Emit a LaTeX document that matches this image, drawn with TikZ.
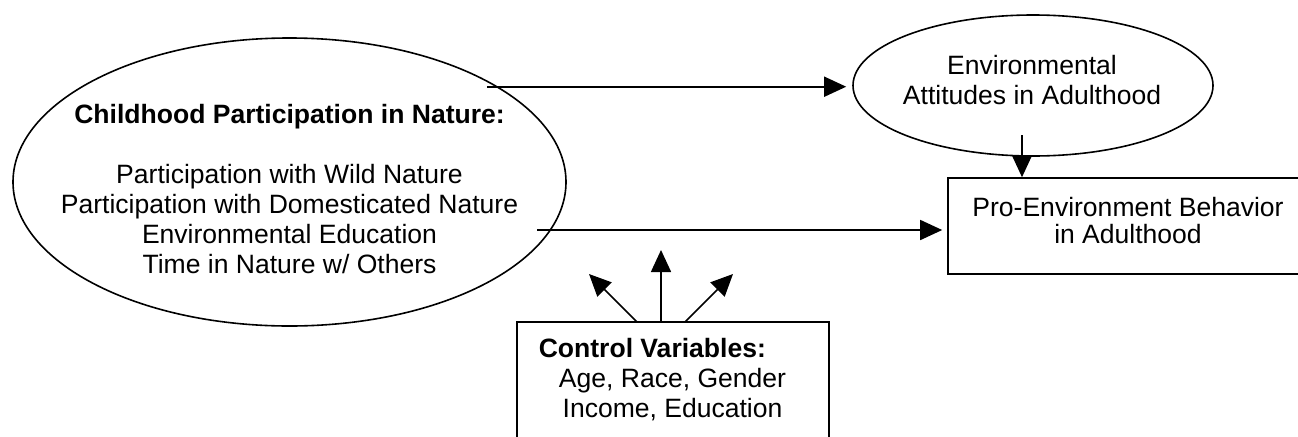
\documentclass[tikz,border=0pt]{standalone}
\usepackage{fontspec}
\setmainfont{Liberation Sans}
\usetikzlibrary{arrows.meta,shapes.geometric}
\begin{document}
\begin{tikzpicture}[x=0.75pt,y=-0.75pt, line width=1.2pt,
  arr/.style={-{Triangle[length=16.5pt,width=15pt]}},
  txt/.style={font=\fontsize{19.9}{22.5}\selectfont, align=center, inner sep=0pt},
  oval/.style={draw, ellipse, inner sep=0pt},
  boxx/.style={draw, rectangle, inner sep=0pt}]
\useasboundingbox (0,0) rectangle (1298,436);
\clip (0,0) rectangle (1298,436);
% nodes
\node[oval, minimum width=414.75pt, minimum height=216pt] (child) at (289.5,182) {};
\node[txt] (childtxt) at (289.5,189) {\textbf{Childhood Participation in Nature:}\\[22.5pt]
  Participation with Wild Nature\\
  Participation with Domesticated Nature\\
  Environmental Education\\
  Time in Nature w/ Others};
\node[oval, minimum width=270pt, minimum height=105.75pt] (att) at (1033,85.5) {};
\node[txt] (atttxt) at (1032,80) {Environmental\\Attitudes in Adulthood};
\node[boxx, minimum width=270pt, minimum height=72pt] (pro) at (1128,226) {};
\node[txt, font=\fontsize{19.9}{20.25}\selectfont] (protxt) at (1128,220.5) {Pro-Environment Behavior\\in Adulthood};
\node[boxx, minimum width=234pt, minimum height=111pt] (ctrl) at (673,396) {};
\node[txt, anchor=west] (ctrlhead) at (538,348) {\textbf{Control Variables:}};
\node[txt] (ctrltxt) at (672.5,395) {Age, Race, Gender\\Income, Education};
% connectors
\coordinate (s1) at (487,86.7);
\draw[arr, shorten >=4.5pt] (s1) -- (s1 -| att.west);
\coordinate (s2) at (537,230);
\draw[arr, shorten >=3.75pt] (s2) -- (s2 -| pro.west);
\coordinate (s3) at (1022,135);
\draw[arr] (s3) -- (s3 |- pro.north);
\coordinate (c1) at (637,322);
\coordinate (c2) at (661,322);
\coordinate (c3) at (685,322);
\coordinate (t1) at (589,274);
\coordinate (t2) at (661,250);
\coordinate (t3) at (733,274);
\draw[arr] (c1) -- (t1);
\draw[arr] (c2) -- (t2);
\draw[arr] (c3) -- (t3);
\end{tikzpicture}
\end{document}
